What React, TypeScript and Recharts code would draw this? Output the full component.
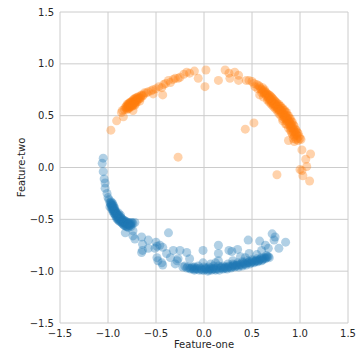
import React from 'react';
import { ScatterChart, Scatter, XAxis, YAxis, CartesianGrid } from 'recharts';

// [feature-one, feature-two] pairs
const orangePoints: [number, number][] = [
  [-0.97, 0.36], [-0.91, 0.45], [-0.84, 0.49], [-0.86, 0.53], [-0.83, 0.56], [-0.85, 0.55], [-0.82, 0.58],
  [-0.81, 0.57], [-0.8, 0.58], [-0.79, 0.59], [-0.78, 0.6], [-0.79, 0.61], [-0.77, 0.6], [-0.77, 0.62],
  [-0.76, 0.61], [-0.76, 0.63], [-0.75, 0.62], [-0.74, 0.63], [-0.74, 0.65], [-0.73, 0.64], [-0.72, 0.64],
  [-0.72, 0.66], [-0.71, 0.65], [-0.7, 0.67], [-0.69, 0.66], [-0.68, 0.68], [-0.67, 0.67], [-0.66, 0.69],
  [-0.65, 0.7], [-0.63, 0.7], [-0.62, 0.72], [-0.6, 0.72], [-0.78, 0.57], [-0.75, 0.59], [-0.72, 0.61],
  [-0.7, 0.63], [-0.74, 0.55], [-0.67, 0.64],
  [-0.8, 0.56], [-0.79, 0.57], [-0.78, 0.58], [-0.77, 0.59], [-0.76, 0.59], [-0.76, 0.6], [-0.75, 0.61],
  [-0.75, 0.64], [-0.74, 0.61], [-0.73, 0.62], [-0.73, 0.66], [-0.72, 0.63], [-0.71, 0.63], [-0.71, 0.67],
  [-0.7, 0.65], [-0.69, 0.68], [-0.68, 0.66], [-0.77, 0.63], [-0.79, 0.6], [-0.81, 0.59], [-0.8, 0.61],
  [-0.78, 0.62], [-0.74, 0.6], [-0.72, 0.6], [-0.66, 0.67], [-0.64, 0.69],
  [-0.58, 0.73], [-0.55, 0.74], [-0.53, 0.71], [-0.53, 0.75], [-0.5, 0.76], [-0.47, 0.78], [-0.44, 0.77],
  [-0.43, 0.7], [-0.42, 0.8], [-0.4, 0.81], [-0.37, 0.84], [-0.35, 0.82], [-0.32, 0.85], [-0.3, 0.86],
  [-0.27, 0.86], [-0.25, 0.87], [-0.21, 0.9], [-0.18, 0.92], [-0.15, 0.91], [-0.1, 0.93], [-0.06, 0.86],
  [0.02, 0.94], [0.01, 0.78], [0.15, 0.84], [0.22, 0.94], [0.26, 0.91], [0.27, 0.86], [0.32, 0.92],
  [0.36, 0.89], [0.36, 0.84], [0.44, 0.84],
  [-0.27, 0.1], [0.43, 0.37], [0.52, 0.43], [0.76, -0.07],
  [0.47, 0.84], [0.5, 0.83], [0.52, 0.81], [0.53, 0.78], [0.55, 0.8], [0.56, 0.76], [0.58, 0.78],
  [0.6, 0.75], [0.6, 0.72], [0.62, 0.74], [0.63, 0.71], [0.64, 0.73], [0.65, 0.69], [0.66, 0.71],
  [0.67, 0.68], [0.68, 0.7], [0.69, 0.66], [0.7, 0.68], [0.71, 0.64], [0.72, 0.66], [0.73, 0.62],
  [0.74, 0.64], [0.75, 0.6], [0.76, 0.62], [0.77, 0.58], [0.78, 0.61], [0.79, 0.56], [0.8, 0.59],
  [0.81, 0.54], [0.82, 0.57], [0.83, 0.52], [0.84, 0.55], [0.85, 0.5], [0.86, 0.53], [0.87, 0.47],
  [0.88, 0.5], [0.89, 0.44], [0.9, 0.47], [0.91, 0.41], [0.92, 0.44], [0.93, 0.37], [0.94, 0.4],
  [0.95, 0.34], [0.96, 0.36], [0.97, 0.31], [0.98, 0.33], [1.0, 0.28], [0.88, 0.38], [0.85, 0.42],
  [0.82, 0.47], [0.78, 0.52], [0.74, 0.57], [0.7, 0.61], [0.66, 0.65], [0.62, 0.68], [0.92, 0.32],
  [0.9, 0.36], [0.86, 0.45], [0.8, 0.5], [0.76, 0.55], [0.72, 0.59], [0.68, 0.63], [0.58, 0.7], [0.94, 0.3],
  [0.57, 0.79], [0.59, 0.76], [0.61, 0.77], [0.61, 0.73], [0.63, 0.75], [0.63, 0.72], [0.65, 0.72],
  [0.65, 0.7], [0.67, 0.7], [0.67, 0.66], [0.69, 0.69], [0.69, 0.64], [0.71, 0.67], [0.71, 0.62],
  [0.73, 0.65], [0.73, 0.6], [0.75, 0.63], [0.75, 0.58], [0.77, 0.6], [0.77, 0.56], [0.79, 0.59],
  [0.79, 0.54], [0.81, 0.57], [0.81, 0.52], [0.83, 0.55], [0.83, 0.49], [0.85, 0.53], [0.85, 0.47],
  [0.87, 0.5], [0.87, 0.44], [0.89, 0.47], [0.89, 0.41], [0.91, 0.44], [0.91, 0.38], [0.93, 0.41],
  [0.93, 0.34], [0.95, 0.37], [0.95, 0.31], [0.97, 0.34], [0.97, 0.28], [0.99, 0.3], [0.8, 0.55],
  [0.82, 0.51], [0.84, 0.48], [0.86, 0.48], [0.88, 0.45], [0.9, 0.42], [0.92, 0.39], [0.94, 0.35],
  [0.96, 0.32], [0.76, 0.58], [0.74, 0.61], [0.72, 0.62], [0.7, 0.65], [0.68, 0.67], [0.84, 0.5],
  [0.86, 0.42], [0.78, 0.56], [0.82, 0.45], [0.9, 0.39], [0.96, 0.27], [0.98, 0.26], [0.93, 0.28],
  [0.91, 0.34],
  [0.88, 0.26], [0.94, 0.25], [1.02, 0.17], [1.06, 0.08], [1.11, 0.13], [1.07, 0.01], [1.0, -0.02],
  [1.03, -0.08], [1.1, -0.13], [1.02, -0.03], [1.01, 0.27],
];

const bluePoints: [number, number][] = [
  [-1.05, 0.09], [-1.06, 0.04], [-1.05, -0.04], [-1.04, -0.11], [-1.03, -0.15], [-1.03, -0.2],
  [-1.01, -0.25], [-1.0, -0.29], [-0.99, -0.31],
  [-0.98, -0.34], [-0.97, -0.36], [-0.98, -0.38], [-0.96, -0.37], [-0.96, -0.4], [-0.95, -0.39],
  [-0.95, -0.42], [-0.94, -0.41], [-0.94, -0.44], [-0.93, -0.43], [-0.92, -0.45], [-0.92, -0.42],
  [-0.91, -0.47], [-0.9, -0.45], [-0.9, -0.48], [-0.89, -0.47], [-0.88, -0.5], [-0.87, -0.48],
  [-0.86, -0.51], [-0.85, -0.5], [-0.84, -0.53], [-0.83, -0.51], [-0.82, -0.54], [-0.81, -0.52],
  [-0.8, -0.55], [-0.79, -0.53], [-0.78, -0.56], [-0.77, -0.54], [-0.76, -0.55], [-0.75, -0.53],
  [-0.74, -0.54], [-0.72, -0.53], [-0.93, -0.39], [-0.91, -0.44], [-0.89, -0.44], [-0.87, -0.52],
  [-0.85, -0.54], [-0.83, -0.56], [-0.81, -0.57], [-0.79, -0.58], [-0.97, -0.33], [-0.95, -0.35],
  [-0.97, -0.35], [-0.96, -0.36], [-0.96, -0.38], [-0.95, -0.37], [-0.95, -0.4], [-0.94, -0.39],
  [-0.94, -0.42], [-0.93, -0.41], [-0.93, -0.45], [-0.92, -0.43], [-0.92, -0.47], [-0.91, -0.45],
  [-0.91, -0.49], [-0.9, -0.46], [-0.9, -0.5], [-0.89, -0.49], [-0.88, -0.47], [-0.88, -0.52],
  [-0.87, -0.5], [-0.86, -0.49], [-0.86, -0.53], [-0.85, -0.52], [-0.84, -0.51], [-0.84, -0.55],
  [-0.83, -0.53], [-0.82, -0.52], [-0.82, -0.56], [-0.81, -0.54], [-0.8, -0.53], [-0.8, -0.57],
  [-0.79, -0.55], [-0.78, -0.54], [-0.77, -0.56], [-0.76, -0.53], [-0.76, -0.57], [-0.94, -0.37],
  [-0.96, -0.34], [-0.89, -0.51], [-0.87, -0.46],
  [-0.82, -0.63], [-0.74, -0.61], [-0.74, -0.66], [-0.72, -0.69], [-0.65, -0.67], [-0.64, -0.74],
  [-0.64, -0.8], [-0.58, -0.7], [-0.58, -0.78], [-0.65, -0.82], [-0.5, -0.72], [-0.49, -0.76],
  [-0.46, -0.75], [-0.43, -0.77], [-0.51, -0.78], [-0.49, -0.87], [-0.48, -0.9], [-0.44, -0.92],
  [-0.43, -0.94], [-0.39, -0.83], [-0.37, -0.63], [-0.35, -0.87], [-0.32, -0.8], [-0.3, -0.93],
  [-0.28, -0.9], [-0.27, -0.88], [-0.25, -0.8], [-0.18, -0.82], [-0.15, -0.88], [-0.2, -0.95],
  [-0.17, -0.96], [-0.01, -0.8], [-0.01, -0.92], [0.15, -0.75], [0.15, -0.83], [0.15, -0.9],
  [0.07, -0.93], [0.26, -0.8], [0.29, -0.81], [0.35, -0.79], [0.46, -0.7], [0.58, -0.71],
  [0.64, -0.75], [0.67, -0.78], [0.71, -0.64], [0.74, -0.67], [0.73, -0.7], [0.85, -0.72],
  [0.78, -0.78], [0.65, -0.85], [0.43, -0.87], [0.47, -0.83], [0.55, -0.84], [0.6, -0.8],
  [0.12, -0.92], [0.3, -0.9], [0.38, -0.86],
  [-0.22, -0.96], [-0.18, -0.97], [-0.14, -0.98], [-0.12, -0.96], [-0.1, -0.99], [-0.08, -0.97],
  [-0.05, -0.99], [-0.03, -0.98], [0.0, -0.99], [0.02, -0.97], [0.04, -1.0], [0.06, -0.98],
  [0.08, -0.99], [0.1, -0.97], [0.12, -0.99], [0.14, -0.98], [0.16, -0.99], [0.18, -0.96],
  [0.2, -0.98], [0.22, -0.96], [0.24, -0.98], [0.26, -0.95], [0.28, -0.97], [0.3, -0.95],
  [0.32, -0.96], [0.34, -0.94], [0.36, -0.96], [0.38, -0.93], [0.4, -0.95], [0.42, -0.93],
  [0.44, -0.94], [0.46, -0.92], [0.48, -0.93], [0.5, -0.91], [0.52, -0.92], [0.54, -0.9],
  [0.56, -0.91], [0.58, -0.89], [0.6, -0.9], [0.62, -0.88], [0.64, -0.88], [0.66, -0.86],
  [0.68, -0.87], [0.25, -0.93], [0.35, -0.92], [0.45, -0.9], [0.55, -0.88], [0.15, -0.95],
  [0.05, -0.96], [-0.06, -0.95],
  [-0.15, -0.97], [-0.13, -0.97], [-0.11, -0.98], [-0.09, -0.98], [-0.07, -0.98], [-0.04, -0.97],
  [-0.02, -0.99], [0.01, -0.98], [0.03, -0.98], [0.05, -0.99], [0.07, -0.97], [0.09, -0.98],
  [0.11, -0.98], [0.13, -0.97], [0.17, -0.97], [0.19, -0.97], [0.21, -0.97], [0.23, -0.97],
  [0.25, -0.96], [0.27, -0.96], [0.29, -0.96], [0.31, -0.94], [0.33, -0.95], [0.35, -0.94],
  [0.37, -0.94], [0.39, -0.94], [0.41, -0.92], [0.43, -0.93], [0.45, -0.92], [0.47, -0.91],
  [0.49, -0.92], [0.51, -0.9], [0.53, -0.91], [0.55, -0.9], [0.57, -0.9], [0.59, -0.88],
  [0.61, -0.89], [0.63, -0.87], [0.65, -0.87], [0.67, -0.86], [0.2, -0.95], [0.3, -0.93],
  [0.4, -0.91], [0.5, -0.89], [0.6, -0.87], [0.1, -0.95], [0.0, -0.96], [-0.1, -0.96],
];

const axisTicks = [-1.5, -1.0, -0.5, 0.0, 0.5, 1.0, 1.5];

const toRows = (pts: [number, number][]) => pts.map(([x, y]) => ({ x, y }));
const fmt = (v: number) => v.toFixed(1).replace('-', '\u2212');

const dot = (color: string) => (props: any) => (
  <circle cx={props.cx} cy={props.cy} r={4.5} fill={color} fillOpacity={0.35} />
);

const tickStyle = { fill: '#262626', fontSize: 10 };

export default function App() {
  return (
    <div style={{ position: 'absolute', left: 0, top: 0, width: 360, height: 360, background: '#fff', fontFamily: '"DejaVu Sans", sans-serif' }}>
      <ScatterChart width={360} height={360} margin={{ top: 12, right: 12, bottom: 0, left: 0 }}>
        <CartesianGrid stroke="#cccccc" />
        <XAxis
          type="number"
          dataKey="x"
          domain={[-1.5, 1.5]}
          ticks={axisTicks}
          tickFormatter={fmt}
          axisLine={false}
          tickLine={false}
          tickSize={0}
          tickMargin={7}
          height={37}
          tick={tickStyle}
          label={{ value: 'Feature-one', position: 'insideBottom', offset: 12, fill: '#262626', fontSize: 10 }}
        />
        <YAxis
          type="number"
          dataKey="y"
          domain={[-1.5, 1.5]}
          ticks={axisTicks}
          tickFormatter={fmt}
          axisLine={false}
          tickLine={false}
          tickSize={0}
          tickMargin={6}
          width={60}
          tick={tickStyle}
          label={{ value: 'Feature-two', angle: -90, position: 'insideLeft', offset: 21, style: { textAnchor: 'middle' }, fill: '#262626', fontSize: 10 }}
        />
        <Scatter data={toRows(bluePoints)} shape={dot('#1f77b4')} isAnimationActive={false} />
        <Scatter data={toRows(orangePoints)} shape={dot('#ff7f0e')} isAnimationActive={false} />
      </ScatterChart>
    </div>
  );
}
